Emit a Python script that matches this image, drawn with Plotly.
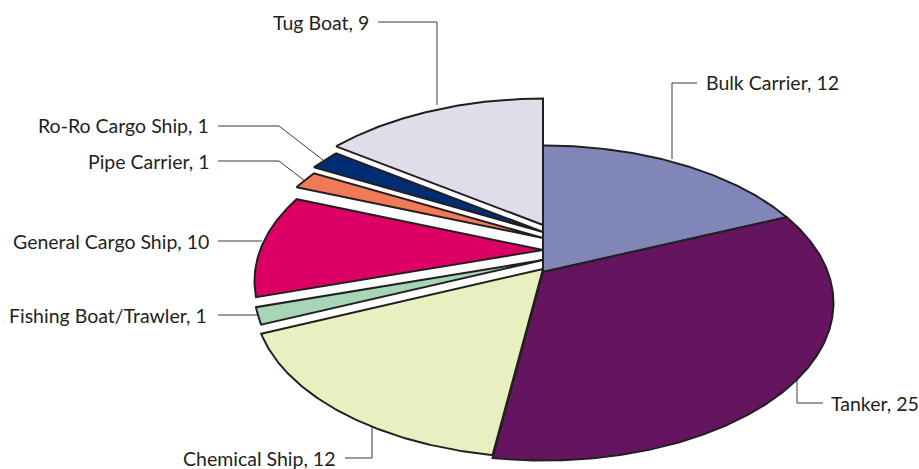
import numpy as np
import plotly.graph_objects as go

# --- data ---
categories = ["Bulk Carrier", "Tanker", "Chemical Ship", "Fishing Boat/Trawler",
              "General Cargo Ship", "Pipe Carrier", "Ro-Ro Cargo Ship", "Tug Boat"]
values = [12, 25, 12, 1, 10, 1, 1, 9]
colors = ["#8186b8", "#651560", "#e9f0bf", "#a6d5b7", "#dd0064", "#f07a57", "#002d72", "#e1dce9"]
explode_up = [0, 0, 3, 12, 22, 34, 40, 47]   # how far each slice is lifted

# --- perspective pie geometry (pixels of the 919x469 page) ---
APEX = (543.0, 272.0)
ELLIPSE = (544.0, 303.0, 289.5, 157.5)
# image-plane foreshortening of the rays, by clockwise angle from the top
FORE_ANG = [0, 60.8, 90, 187.6, 248.4, 253.5, 270, 304.2, 304.3, 309.3, 314.4, 360]
FORE_VAL = [2.5, 2.48, 2.2, 2.03, 1.72, 1.8, 2.4, 3.3, 3.3, 2.9, 2.57, 2.5]


def rim(theta_deg):
    t = np.radians(theta_deg)
    r = np.interp(np.mod(theta_deg, 360), FORE_ANG, FORE_VAL)
    dx, dy = np.sin(t) * r, -np.cos(t)
    cx, cy, a, b = ELLIPSE
    ox, oy = APEX[0] - cx, APEX[1] - cy
    A = (dx / a) ** 2 + (dy / b) ** 2
    B = 2 * (ox * dx / a ** 2 + oy * dy / b ** 2)
    C = (ox / a) ** 2 + (oy / b) ** 2 - 1
    s = (-B + np.sqrt(B * B - 4 * A * C)) / (2 * A)
    return APEX[0] + s * dx, APEX[1] + s * dy


fig = go.Figure()
total = sum(values)
cum = 0
for name, val, col, up in zip(categories, values, colors, explode_up):
    a0 = cum / total * 360
    a1 = (cum + val) / total * 360
    cum += val
    ang = np.linspace(a0, a1, max(8, int((a1 - a0) * 2)))
    pts = [rim(a) for a in ang]
    xs = [APEX[0]] + [p[0] for p in pts] + [APEX[0]]
    ys = [APEX[1] - up] + [p[1] - up for p in pts] + [APEX[1] - up]
    fig.add_trace(go.Scatter(x=xs, y=ys, mode="lines", fill="toself", fillcolor=col,
                             line=dict(color="#231f20", width=2), name=name,
                             hoverinfo="name", showlegend=False))

# label placement and leader lines
label_pos = {
    "Tug Boat": (371, 22, "right"),
    "Bulk Carrier": (704, 82, "left"),
    "Tanker": (829, 403, "left"),
    "Ro-Ro Cargo Ship": (211, 125, "right"),
    "Pipe Carrier": (211, 161, "right"),
    "General Cargo Ship": (211, 241, "right"),
    "Fishing Boat/Trawler": (209, 315, "right"),
    "Chemical Ship": (337, 458, "right"),
}
leaders = [
    [(378, 22), (437, 22), (437, 105)],
    [(672, 159), (672, 83), (697, 83)],
    [(797, 378), (797, 403), (823, 403)],
    [(218, 126), (279, 126), (323, 160)],
    [(218, 161), (279, 161), (305, 181)],
    [(218, 241), (262, 241)],
    [(218, 315), (258, 315)],
    [(345, 458), (372, 458), (372, 425)],
]
for pts in leaders:
    path = "M " + " L ".join(f"{x} {y}" for x, y in pts)
    fig.add_shape(type="path", path=path, xref="x", yref="y", layer="below",
                  line=dict(color="#3a3a3a", width=1))
for name, val in zip(categories, values):
    x, y, anchor = label_pos[name]
    fig.add_annotation(x=x, y=y, xref="x", yref="y", text=f"{name}, {val}", showarrow=False,
                       xanchor=anchor, yanchor="middle",
                       font=dict(family="Lato", size=19.5, color="#231f20"))

fig.update_layout(width=919, height=469, margin=dict(l=0, r=0, t=0, b=0),
                  paper_bgcolor="white", plot_bgcolor="white", showlegend=False,
                  xaxis=dict(range=[0, 919], visible=False, fixedrange=True),
                  yaxis=dict(range=[469, 0], visible=False, fixedrange=True))
fig.write_html("out.html", config={"displayModeBar": False},
               post_script="document.body.style.margin='0';")
